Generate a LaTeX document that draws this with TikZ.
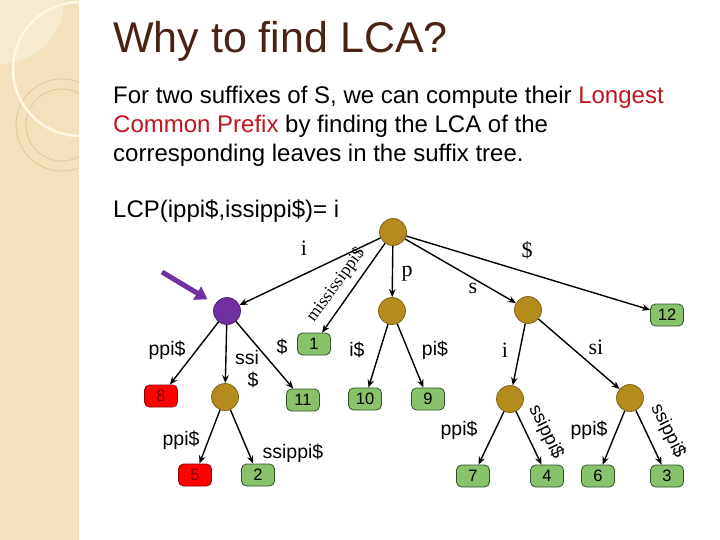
\documentclass[tikz,border=0pt]{standalone}
\usepackage{fontspec}
\setmainfont{Liberation Sans}
\newfontfamily\serifface{Liberation Serif}
\usetikzlibrary{arrows.meta}
\definecolor{titlec}{HTML}{4A2315}
\definecolor{redtext}{HTML}{C0141E}
\definecolor{stripe}{HTML}{F2E1BA}
\definecolor{stripelight}{HTML}{F6EAD0}
\definecolor{ringc}{HTML}{DCC79A}
\definecolor{creamc}{HTML}{FFF8E2}
\definecolor{brownc}{HTML}{B48C1E}
\definecolor{browndark}{HTML}{7A5E12}
\definecolor{purplec}{HTML}{7030A0}
\definecolor{purpledark}{HTML}{4A1E70}
\definecolor{leafc}{HTML}{88C26A}
\definecolor{leafdark}{HTML}{33502A}
\definecolor{leafred}{HTML}{FF0000}
\definecolor{leafreddark}{HTML}{8A0000}
\definecolor{numred}{HTML}{7A0000}
\begin{document}
\begin{tikzpicture}[x=1pt,y=-1pt,
  inner/.style={circle, minimum size=27pt, inner sep=0pt, fill=brownc, draw=browndark, line width=0.7pt},
  leaf/.style={rectangle, rounded corners=5pt, minimum width=33pt, minimum height=22pt, inner sep=0pt,
     fill=leafc, draw=leafdark, line width=0.8pt, font=\fontsize{16.5}{17}\selectfont},
  redleaf/.style={leaf, fill=leafred, draw=leafreddark, text=numred},
  edge/.style={-{Stealth[length=8pt,width=6.5pt]}, line width=1.4pt, black},
  lbl/.style={font=\fontsize{19.5}{20}\selectfont, inner sep=0pt},
  rlbl/.style={font=\fontsize{18.5}{19}\selectfont, inner sep=0pt},
  slbl/.style={font=\serifface\fontsize{22}{22}\selectfont, inner sep=0pt},
  body/.style={anchor=base west, inner sep=0pt, font=\fontsize{24}{29}\selectfont}
]
\useasboundingbox (0,0) rectangle (720,540);
\fill[white] (0,0) rectangle (720,540);
% left decorative stripe
\fill[stripe] (0,0) rectangle (79,540);
\begin{scope}
  \clip (0,0) rectangle (79,540);
  \fill[stripelight] (0,0) circle (64pt);
  \draw[ringc, line width=0.8pt] (62,125) circle (46pt);
  \draw[ringc, line width=0.8pt] (62,125) circle (36pt);
  \draw[creamc, line width=2.5pt] (80,69) circle (67pt);
\end{scope}

% texts
\node[anchor=base west, inner sep=0pt, text=titlec, font=\fontsize{43}{50}\selectfont] (title) at (113,53) {Why to find LCA?};
\node[body] (line1) at (113,104) {For two suffixes of S, we can compute their \textcolor{redtext}{Longest}};
\node[body] (line2) at (113,133) {\textcolor{redtext}{Common Prefix} by finding the LCA of the};
\node[body] (line3) at (113,162) {corresponding leaves in the suffix tree.};
\node[body] (lcp) at (113,218) {LCP(ippi\$,issippi\$)= i};

% internal nodes
\node[inner] (root) at (393,232) {};
\node[inner, fill=purplec, draw=purpledark] (pur) at (227,311) {};
\node[inner] (pn) at (392,311) {};
\node[inner] (sn) at (528,310) {};
\node[inner] (ssin) at (225,397) {};
\node[inner] (in) at (510,399) {};
\node[inner] (sin) at (630,398) {};

% leaves
\node[leaf] (l1) at (314,344) {1};
\node[leaf] (l12) at (667,315) {12};
\node[redleaf] (l8) at (161,396) {8};
\node[leaf] (l11) at (303,400) {11};
\node[leaf] (l10) at (365,399) {10};
\node[leaf] (l9) at (428,399) {9};
\node[redleaf] (l5) at (195,475) {5};
\node[leaf] (l2) at (258,475) {2};
\node[leaf] (l7) at (473,476) {7};
\node[leaf] (l4) at (547,476) {4};
\node[leaf] (l6) at (598,476) {6};
\node[leaf] (l3) at (667,476) {3};

% edges
\draw[edge] (root) -- (pur);
\draw[edge] (root) -- (l1);
\draw[edge] (root) -- (pn);
\draw[edge] (root) -- (sn);
\draw[edge] (root) -- (l12);
\draw[edge] (pur) -- (l8);
\draw[edge] (pur) -- (ssin);
\draw[edge] (pur) -- (l11);
\draw[edge] (pn) -- (l10);
\draw[edge] (pn) -- (l9);
\draw[edge] (ssin) -- (l5);
\draw[edge] (ssin) -- (l2);
\draw[edge] (sn) -- (in);
\draw[edge] (sn) -- (sin);
\draw[edge] (in) -- (l7);
\draw[edge] (in) -- (l4);
\draw[edge] (sin) -- (l6);
\draw[edge] (sin) -- (l3);

% edge labels
\node[slbl] (li) at (304,248) {i};
\node[inner sep=0pt, font=\serifface\fontsize{17.5}{18}\selectfont, rotate=54] (lmis) at (336,285) {mississippi\$};
\node[slbl] (lp) at (407,274) {p};
\node[slbl] (ls) at (473,288) {s};
\node[slbl] (ld) at (527,250) {\$};
\node[lbl] (a8) at (167,350) {ppi\$};
\node[lbl] (assi) at (247,358) {ssi};
\node[lbl] (assid) at (253,380) {\$};
\node[lbl] (a11) at (282,347) {\$};
\node[lbl] (a10) at (357,350) {i\$};
\node[lbl] (a9) at (435,350) {pi\$};
\node[lbl] (a5) at (181,440) {ppi\$};
\node[lbl] (a2) at (293,453) {ssippi\$};
\node[slbl] (ai) at (505,350) {i};
\node[slbl] (asi) at (596,347) {si};
\node[lbl] (a7) at (459,430) {ppi\$};
\node[rlbl, rotate=-64] (l4lab) at (546,432) {ssippi\$};
\node[lbl] (a6) at (589,430) {ppi\$};
\node[rlbl, rotate=-64] (l3lab) at (668,431) {ssippi\$};

% purple pointer arrow
\coordinate (ptail) at (162,272);
\draw[purplec, line width=5pt, -{Triangle[length=12pt,width=15pt]}, shorten >=9pt] (ptail) -- (pur);
\end{tikzpicture}
\end{document}
